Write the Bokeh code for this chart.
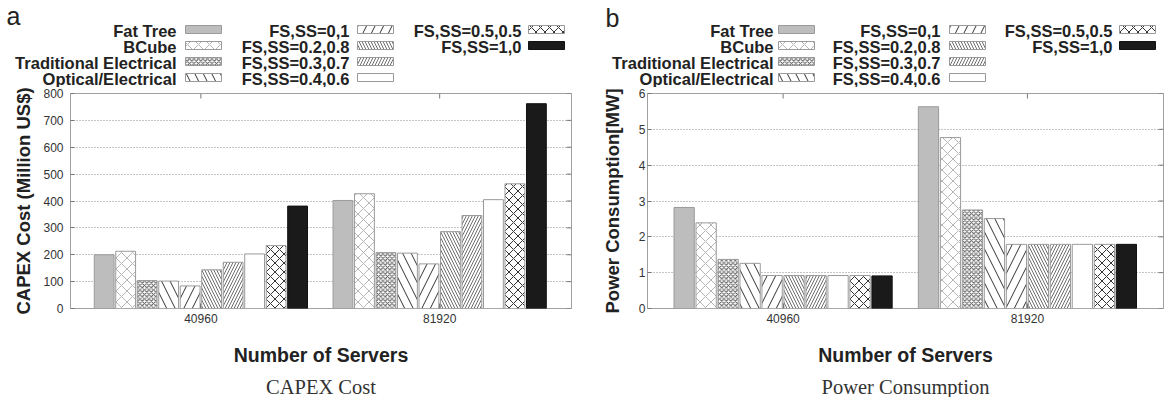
from bokeh.plotting import figure
from bokeh.layouts import row, column
from bokeh.models import ColumnDataSource, Range1d, FixedTicker
from bokeh.core.properties import value
from bokeh.embed import file_html
from bokeh.resources import INLINE

# ---------------- data ----------------
groups = ["40960", "81920"]
series = ["Fat Tree", "BCube", "Traditional Electrical", "Optical/Electrical",
          "FS,SS=0,1", "FS,SS=0.2,0.8", "FS,SS=0.3,0.7", "FS,SS=0.4,0.6",
          "FS,SS=0.5,0.5", "FS,SS=1,0"]
capex_40960 = [200, 213, 104, 102, 84, 144, 172, 203, 234, 381]
capex_81920 = [402, 427, 208, 206, 166, 286, 346, 405, 464, 762]
power_40960 = [2.82, 2.39, 1.37, 1.26, 0.92, 0.92, 0.92, 0.92, 0.92, 0.91]
power_81920 = [5.63, 4.77, 2.75, 2.51, 1.79, 1.79, 1.79, 1.79, 1.79, 1.79]
capex_ticks = [0, 100, 200, 300, 400, 500, 600, 700, 800]
power_ticks = [0, 1, 2, 3, 4, 5, 6]

# ---------------- styles ----------------
fills = ["#bdbdbd", "white", "white", "white", "white", "white", "white", "white", "white", "#1a1a1a"]
hatches = [" ", "x", "x", "\\", "/", "\\", "/", " ", "x", " "]
hatch_colors = ["#bdbdbd", "#b5b5b5", "#555555", "#333333", "#333333", "#6e6e6e",
                "#6e6e6e", "#ffffff", "#333333", "#1a1a1a"]
hatch_scales = [8, 11, 4.5, 17, 17, 6, 6, 8, 9, 8]
line_colors = ["#9a9a9a"] * 9 + ["#111111"]
PITCH = 0.09
BAR_W = 0.083
SANS = "Liberation Sans"
SERIF = "Liberation Serif"
TXT = "#222222"
LEG_H = 87
FRAME_TOP = 93
FRAME_H = 215
BOTTOM_B = 64
TITLE_TOP = FRAME_TOP + FRAME_H + BOTTOM_B
TITLE_H = 397 - TITLE_TOP
TITLE_MID_PX = 386
LEG_ROWS_PX = [30, 46, 62, 78]
LEG_COL = [0, 0, 0, 0, 1, 1, 1, 1, 2, 2]
LEG_ROW = [0, 1, 2, 3, 0, 1, 2, 3, 0, 1]
SW_W = 36


def bare_fig(x0, width, height):
    p = figure(width=width, height=height, x_range=Range1d(x0, x0 + width),
               y_range=Range1d(height, 0), output_backend="svg", toolbar_location=None,
               min_border=0, min_border_left=0, min_border_right=0, min_border_top=0,
               min_border_bottom=0, x_axis_location=None, y_axis_location=None,
               frame_align=False)
    p.grid.visible = False
    p.outline_line_color = None
    return p


def chart(vals_by_group, ticks, ylabel, xr, fig_left, frame_left, fw, br,
          lab_standoff, axlab_standoff):
    p = figure(frame_width=fw, frame_height=FRAME_H, x_range=Range1d(*xr),
               y_range=Range1d(ticks[0], ticks[-1]), output_backend="svg",
               toolbar_location=None, min_border_left=frame_left - fig_left,
               min_border_right=br, min_border_top=FRAME_TOP - LEG_H,
               min_border_bottom=BOTTOM_B, frame_align=False)
    ymin, ymax = ticks[0], ticks[-1]
    xs, tops = [], []
    for gi, vals in enumerate(vals_by_group):
        for si, v in enumerate(vals):
            xs.append(gi + (si - 4.5) * PITCH)
            tops.append(v)
    n = len(vals_by_group)
    src = ColumnDataSource(dict(x=xs, top=tops, fill=fills * n, hatch=hatches * n,
                                hcol=hatch_colors * n, hscale=hatch_scales * n,
                                line=line_colors * n))
    p.vbar(x="x", top="top", bottom=0, width=BAR_W, source=src, fill_color="fill",
           line_color="line", line_width=1, hatch_pattern="hatch", hatch_color="hcol",
           hatch_scale="hscale", hatch_weight=1)

    # mirrored inward ticks on the right and top borders (5 px long)
    dx = 5 / fw * (xr[1] - xr[0])
    dy = 5 / FRAME_H * (ymax - ymin)
    p.segment(x0=[xr[1]] * len(ticks), x1=[xr[1] - dx] * len(ticks), y0=ticks, y1=ticks,
              line_color="#777777", line_width=1)
    gx = list(range(len(groups)))
    p.segment(x0=gx, x1=gx, y0=[ymax] * len(gx), y1=[ymax - dy] * len(gx),
              line_color="#777777", line_width=1)

    p.outline_line_color = "#a0a0a0"
    p.xgrid.visible = False
    p.ygrid.ticker = FixedTicker(ticks=ticks)
    p.ygrid.grid_line_color = "#8a8a8a"
    p.ygrid.grid_line_dash = "1 2"

    xa = p.xaxis[0]
    xa.ticker = FixedTicker(ticks=gx)
    xa.major_label_overrides = {i: g for i, g in enumerate(groups)}
    xa.axis_line_color = None
    xa.major_tick_in = 5
    xa.major_tick_out = 0
    xa.major_tick_line_color = "#777777"
    xa.minor_tick_line_color = None
    xa.major_label_standoff = 5
    xa.major_label_text_font = SANS
    xa.major_label_text_font_size = "12px"
    xa.major_label_text_color = "#333333"
    xa.axis_label = "Number of Servers"
    xa.axis_label_text_font = SANS
    xa.axis_label_text_font_style = "bold"
    xa.axis_label_text_font_size = "19.5px"
    xa.axis_label_text_color = TXT
    xa.axis_label_standoff = 18

    ya = p.yaxis[0]
    ya.ticker = FixedTicker(ticks=ticks)
    ya.axis_line_color = None
    ya.major_tick_in = 4
    ya.major_tick_out = 0
    ya.major_tick_line_color = "#777777"
    ya.minor_tick_line_color = None
    ya.major_label_standoff = lab_standoff
    ya.major_label_text_font = SANS
    ya.major_label_text_font_size = "12px"
    ya.major_label_text_color = "#333333"
    ya.axis_label = ylabel
    ya.axis_label_text_font = SANS
    ya.axis_label_text_font_style = "bold"
    ya.axis_label_text_font_size = "18.5px"
    ya.axis_label_text_color = TXT
    ya.axis_label_standoff = axlab_standoff
    return p


def legend_fig(x0, width, letter, letter_px, text_px, sw_px):
    p = bare_fig(x0, width, LEG_H)
    tx = [text_px[c] for c in LEG_COL]
    ty = [LEG_ROWS_PX[r] for r in LEG_ROW]
    p.text(x=tx, y=ty, text=series, text_align="right", text_baseline="middle",
           text_font=value(SANS), text_font_style="bold", text_font_size="16.5px",
           text_color=TXT)
    src = ColumnDataSource(dict(
        left=[sw_px[c] for c in LEG_COL], right=[sw_px[c] + SW_W for c in LEG_COL],
        top=[y - 5 for y in ty], bottom=[y + 3 for y in ty],
        fill=fills, hatch=hatches, hcol=hatch_colors, hscale=hatch_scales, line=line_colors))
    p.quad(left="left", right="right", top="top", bottom="bottom", source=src,
           fill_color="fill", line_color="line", line_width=1, hatch_pattern="hatch",
           hatch_color="hcol", hatch_scale="hscale", hatch_weight=1)
    p.text(x=[letter_px[0]], y=[letter_px[1]], text=[letter], text_align="left",
           text_baseline="middle", text_font=value(SANS), text_font_size="25px",
           text_color=TXT)
    return p


def title_fig(x0, width, cx, text):
    p = bare_fig(x0, width, TITLE_H)
    p.text(x=[cx], y=[TITLE_MID_PX - TITLE_TOP], text=[text], text_align="center",
           text_baseline="middle", text_font=value(SERIF), text_font_size="20.5px",
           text_color="#333333")
    return p


# panel a (page x 0..584)
chart_a = chart([capex_40960, capex_81920], capex_ticks, "CAPEX Cost (Million US$)",
                (-0.546, 1.552), 0, 70, 501, 13, 7, 6)
leg_a = legend_fig(0, 584, "a", (6, 15), [176, 349, 521], [185, 357, 528])
tit_a = title_fig(0, 584, 70 + 501 / 2, "CAPEX Cost")

# panel b (page x 584..1172)
chart_b = chart([power_40960, power_81920], power_ticks, "Power Consumption[MW]",
                (-0.555, 1.557), 584, 647, 516, 9, 2, 13)
leg_b = legend_fig(584, 588, "b", (605, 17), [773, 940, 1112], [778, 949, 1119])
tit_b = title_fig(584, 588, 647 + 516 / 2, "Power Consumption")

layout = row(column(leg_a, chart_a, tit_a), column(leg_b, chart_b, tit_b))

open("out.html", "w").write(file_html(layout, INLINE))
